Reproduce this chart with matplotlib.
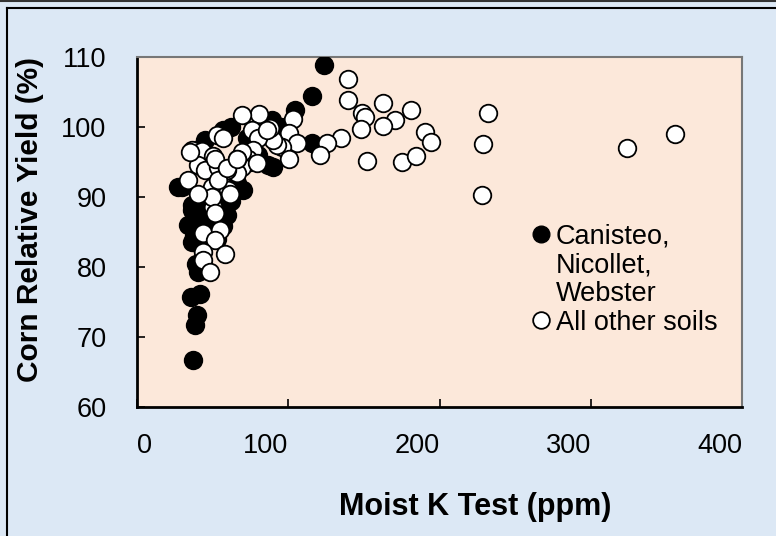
import matplotlib
matplotlib.use("Agg")
import matplotlib.pyplot as plt
from matplotlib.lines import Line2D

plt.rcParams['font.family'] = ['Liberation Sans', 'DejaVu Sans']

# Canisteo, Nicollet, Webster (filled)
cnw_k = [37.2, 38.3, 39.5, 35.7, 41.7, 40.5, 36.2, 33.9, 36.2, 57.1, 59.3, 29.5,
         27.3, 36.2, 70.3, 86.8, 90.1, 45, 57.1, 89, 104.5, 115.5, 123.8, 115.5,
         41, 38, 45, 47, 56, 53, 42, 39, 62, 48, 42, 62, 80, 75, 66, 73, 95, 100]
cnw_yield = [66.7, 71.7, 73.1, 75.7, 76.2, 79.3, 83.6, 86.0, 88.1, 85.8, 87.4, 91.5,
             91.5, 88.9, 91.0, 94.6, 94.3, 98.1, 99.6, 101, 102.4, 104.5, 108.9, 97.7,
             86, 84.5, 88, 86.5, 89, 84, 83, 80.5, 89.5, 95, 97, 100, 96, 95, 92, 98.5, 100, 97.5]

# all other soils (open)
oth_k = [139.7, 139.7, 148.6, 150.7, 162.9, 170.6, 181.2, 162.9, 148.1, 134.9, 125.4,
         121, 151.8, 175, 184.5, 190.4, 194.2, 232.3, 229, 228, 323.8, 355.7,
         103.4, 100.7, 105.6, 95.7, 100.7, 92.4, 90.1, 80.9, 69.2, 75.8, 87.9, 80.2,
         76.9, 73.6, 69.2, 69.2, 85.7, 79.1, 66, 66,
         52.7, 57.1, 36.2, 42.8, 50.4, 40.5, 45, 53.8, 59.3, 33.9, 49.4, 60.4, 53.8,
         50.4, 61.5, 49.4, 40.5, 51.6, 43.4, 54.9, 51.6, 43.8, 58.2, 43.8, 48.3,
         51.6, 59.3, 65.9, 35]
oth_yield = [106.8, 103.9, 102.0, 101.4, 103.4, 101.0, 102.4, 100.2, 99.7, 98.5, 97.7,
             96.0, 95.2, 95.0, 95.9, 99.3, 97.9, 102.0, 97.6, 90.3, 97.0, 99.0,
             101.2, 99.1, 97.7, 97.2, 95.4, 97.4, 98.1, 101.9, 101.7, 99.6, 99.8, 98.4,
             96.7, 95.5, 94.3, 96.5, 99.6, 94.8, 95.5, 93.4,
             98.9, 98.4, 96.7, 96.6, 95.8, 94.6, 93.9, 94.3, 93.9, 92.4, 91.5, 91, 92.4,
             88.6, 90.5, 90.0, 90.5, 87.7, 84.9, 85.3, 83.9, 82.2, 81.9, 81, 79.3,
             95.5, 94.1, 95.5, 96.5]

xticks = [0, 100, 200, 300, 400]
yticks = [60, 70, 80, 90, 100, 110]

W, H = 776, 536
fig = plt.figure(figsize=(W / 100, H / 100), dpi=100, facecolor='#dce8f5')
ax = fig.add_axes([137 / W, 1 - 407 / H, (742 - 137) / W, (407 - 57) / H])
ax.set_facecolor('#fce8da')

ax.scatter(cnw_k, cnw_yield, s=160, c='black', edgecolors='black', linewidths=1.3, zorder=3)
ax.scatter(oth_k, oth_yield, s=160, c='white', edgecolors='black', linewidths=1.3, zorder=4)

ax.set_xlim(0, 400)
ax.set_ylim(60, 110)
ax.set_xticks(xticks)
ax.set_yticks(yticks)
ax.tick_params(direction='in', length=6, width=1.2, labelsize=19.5)
ax.tick_params(axis='y', pad=22)
ax.tick_params(axis='x', pad=19)
for lab in ax.get_xticklabels():
    lab.set_ha('right')
ax.get_xticklabels()[0].set_ha('left')

for s in ['left', 'bottom']:
    ax.spines[s].set_linewidth(2)
    ax.spines[s].set_color('black')
for s in ['top', 'right']:
    ax.spines[s].set_linewidth(1.5)
    ax.spines[s].set_color('#777777')

fig.text(475 / W, 1 - 507 / H, 'Moist K Test (ppm)', fontsize=22, fontweight='bold',
         ha='center', va='center')
fig.text(30 / W, 1 - 220 / H, 'Corn Relative Yield (%)', fontsize=21.5, fontweight='bold',
         ha='center', va='center', rotation=90)

# legend
handles = [
    Line2D([], [], ls='', marker='o', ms=12, mfc='black', mec='black'),
    Line2D([], [], ls='', marker=None),
    Line2D([], [], ls='', marker=None),
    Line2D([], [], ls='', marker='o', ms=12, mfc='white', mec='black', mew=1.3),
]
labels = ['Canisteo,', 'Nicollet,', 'Webster', 'All other soils']
ax.legend(handles, labels, loc='upper left', bbox_to_anchor=(519 / W, 1 - 210 / H),
          bbox_transform=fig.transFigure, frameon=False, fontsize=19.5,
          handlelength=0.6, handletextpad=0.25, labelspacing=0.1, borderpad=0)

# frame lines
fig.add_artist(Line2D([0, 1], [1 - 1 / H, 1 - 1 / H], color='#333333', lw=1.5,
                      transform=fig.transFigure))
fig.add_artist(Line2D([7 / W, 1], [1 - 8 / H, 1 - 8 / H], color='black', lw=1.5,
                      transform=fig.transFigure))
fig.add_artist(Line2D([7 / W, 7 / W], [0, 1 - 8 / H], color='black', lw=1.5,
                      transform=fig.transFigure))

fig.savefig('out.png', dpi=100, facecolor=fig.get_facecolor())
